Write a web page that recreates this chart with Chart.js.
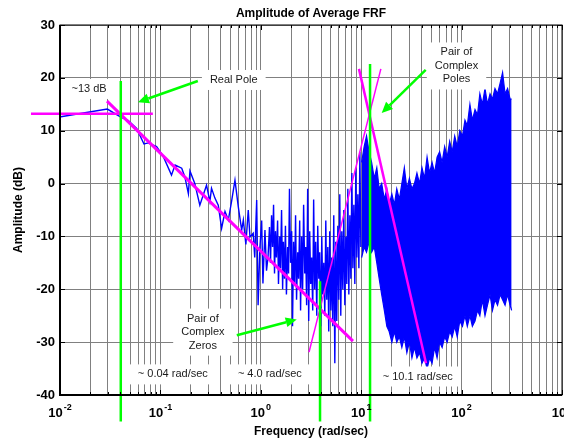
<!DOCTYPE html>
<html>
<head>
<meta charset="utf-8">
<title>Amplitude of Average FRF</title>
<script src="https://cdn.jsdelivr.net/npm/chart.js@4.4.0/dist/chart.umd.min.js"></script>
<style>
  html, body { margin: 0; padding: 0; background: #fff; }
  canvas { display: block; }
</style>
</head>
<body>
<canvas id="frf" width="564" height="439"></canvas>
<script>
// measured FRF, sparse low frequency part (rad/sec , dB)
var lowFreq = [0.0102, 0.0296, 0.0396, 0.0479, 0.058, 0.0686, 0.0757, 0.0916, 0.107, 0.129,
               0.140, 0.163, 0.175, 0.190, 0.197, 0.220, 0.247, 0.288, 0.311, 0.323,
               0.349, 0.377, 0.407, 0.440, 0.475, 0.510, 0.553, 0.597, 0.645, 0.670,
               0.710, 0.750, 0.780, 0.840, 0.870, 0.910, 0.940, 0.980, 1.02, 1.05,
               1.10, 1.14, 1.18, 1.22];
var lowAmp = [12.65, 14.1, 12.65, 11.9, 10.45, 7.5, 7.7, 7.0, 5.1, 1.6,
              3.5, 2.9, 1.3, -1.9, 2.4, 0.0, -4.1, -0.3, -3.4, -0.9,
              -2.75, -4.1, -8.5, -5.3, -6.9, -3.5, 0.66, -4.4, -8.8, -6.9,
              -11.5, -5.0, -10.1, -9.4, -14.0, -3.1, -23, -12.0, -7.0, -18.9,
              -8.8, -16.5, -13.9, -8.2];

// noisy part 1.25 .. 10 rad/sec
var midFreq = [1.25, 1.28, 1.31, 1.34, 1.37, 1.40, 1.43, 1.47, 1.50, 1.54,
               1.57, 1.61, 1.65, 1.68, 1.72, 1.76, 1.80, 1.85, 1.89, 1.93,
               1.98, 2.03, 2.07, 2.12, 2.17, 2.22, 2.27, 2.33, 2.38, 2.44,
               2.49, 2.55, 2.61, 2.67, 2.74, 2.80, 2.86, 2.93, 3.00, 3.07,
               3.14, 3.21, 3.29, 3.36, 3.44, 3.52, 3.61, 3.69, 3.78, 3.86,
               3.95, 4.05, 4.14, 4.24, 4.34, 4.44, 4.54, 4.65, 4.75, 4.86,
               4.98, 5.09, 5.21, 5.33, 5.46, 5.58, 5.71, 5.85, 5.98, 6.12,
               6.26, 6.41, 6.56, 6.71, 6.87, 7.03, 7.19, 7.36, 7.53, 7.71,
               7.89, 8.07, 8.26, 8.45, 8.64, 8.84, 9.05, 9.26, 9.48, 9.70,
               9.92];
var midAmp = [-15, -6, -12, -4, -17, -9, -14, -7, -19, -10,
              -16, -5, -20, -11, -18, -8, -21, -12, -17, -1,
              -15, -9, -27, -11, -19, -6, -22, -13, -18, -7,
              -24, -10, -20, -4, -17, -12, -23, -1, -26, -9,
              -19, -14, -24, -3, -20, -11, -25, -8, -18, -13,
              -27, -10, -21, -15, -25, -7, -22, -12, -28, -9,
              -24, -14, -27, -6, -34, -11, -26, -8, -22, -2,
              -25, -9, -20, -5, -23, -10, -19, -1, -21, -6,
              -18, 2, -16, -4, -19, 3, -14, -2, -16, 6,
              -12];

// dense part 10 .. 315 rad/sec : upper and lower edge of the band
var bandFreq = [10.1, 10.7, 11.3, 12.0, 12.7, 13.5, 14.3, 15.1, 16.0, 17.0,
                18.0, 19.0, 20.2, 21.4, 22.6, 24.0, 25.4, 26.9, 28.5, 30.2,
                32.0, 33.9, 35.9, 38.1, 40.3, 42.7, 45.3, 48.0, 50.8, 53.8,
                57.0, 60.4, 64.0, 67.8, 71.8, 76.1, 80.6, 85.4, 90.5, 95.9,
                102, 108, 114, 121, 128, 136, 144, 152, 161, 171,
                181, 192, 203, 215, 228, 242, 256, 271, 287, 304, 315];
var bandTop = [4, 7, 9, 6, 4, 1, 3, -1, 0, -3,
               -1, -4, -2, -4, -1, -3, 0, 3, -1, 1,
               -1, 0, 2, 0, 3, 1, 5, 2, 4, 2,
               5, 6, 4, 7, 5, 8, 6, 9, 7, 10,
               9, 12, 11, 15, 12, 14, 13, 17, 15, 18,
               15, 17, 16, 18, 17, 19, 21, 17, 18, 16, 16];
var bandBottom = [-14, -12, -13, -11, -13, -12, -15, -18, -21, -24,
                  -27, -28, -30, -28, -30, -29, -31, -29, -32, -30,
                  -33, -31, -33, -32, -34, -33, -35, -33, -34, -31,
                  -33, -30, -31, -29, -30, -28, -29, -27, -29, -26,
                  -27, -25, -27, -25, -27, -26, -24, -25, -22, -25,
                  -23, -21, -24, -22, -23, -21, -22, -23, -21, -23, -24];

// straight line asymptotes (start, end)
var realPoleFreq = [0.00514, 0.0841];
var realPoleAmp = [13.2, 13.2];
var slopeFreq = [0.0294, 8.28];
var slopeAmp = [15.6, -29.8];
var zeroRiseFreq = [3.02, 15.7];
var zeroRiseAmp = [-31.9, 21.7];
var poleFallFreq = [9.5, 44.2];
var poleFallAmp = [21.7, -34.0];

// break frequency markers
var breakFreq = [0.0403, 3.89, 12.25];
var breakTop = [19.4, -18.5, 22.6];
var breakBottom = [-45, -45, -45];

// axis tick labels
var decades = [0.01, 0.1, 1, 10, 100, 1000];
var decadeExp = ['-2', '-1', '0', '1', '2', '3'];

// text notes and arrows (data coordinates)
var notes = [
  { lines: ['~13 dB'], f: 0.0195, a: 17.9 },
  { lines: ['Real Pole'], f: 0.538, a: 19.6 },
  { lines: ['Pair of', 'Complex', 'Poles'], f: 89, a: 22.25 },
  { lines: ['Pair of', 'Complex', 'Zeros'], f: 0.265, a: -28.1 },
  { lines: ['~ 0.04 rad/sec'], f: 0.133, a: -36.1 },
  { lines: ['~ 4.0 rad/sec'], f: 1.23, a: -36.1 },
  { lines: ['~ 10.1 rad/sec'], f: 36.6, a: -36.5 }
];
var arrows = [
  { from: [0.236, 19.4], to: [0.0598, 15.4] },
  { from: [43.9, 21.5], to: [16.0, 13.35] },
  { from: [0.577, -28.7], to: [2.28, -25.7] }
];

var FONT = '"Liberation Sans", Arial, Helvetica, sans-serif';

function pts(xs, ys) {
  return xs.map(function (x, i) { return { x: x, y: ys[i] }; });
}

function segment(xs, ys, color, width, order) {
  return {
    data: pts(xs, ys),
    borderColor: color,
    borderWidth: width,
    clip: false,
    order: order
  };
}

var datasets = [
  { data: pts(lowFreq.concat(midFreq), lowAmp.concat(midAmp)), borderColor: '#0000ff', borderWidth: 1.4, order: 5 },
  { data: pts(bandFreq, bandTop), borderColor: '#0000ff', borderWidth: 1.2, order: 4 },
  { data: pts(bandFreq, bandBottom), borderColor: '#0000ff', borderWidth: 1.2, backgroundColor: '#0000ff', fill: '-1', order: 4 },
  segment(realPoleFreq, realPoleAmp, '#ff00ff', 2.5, 1),
  segment(slopeFreq, slopeAmp, '#ff00ff', 3, 1),
  segment(zeroRiseFreq, zeroRiseAmp, '#ff00ff', 1.5, 1),
  segment(poleFallFreq, poleFallAmp, '#ff00ff', 2.5, 1)
];
breakFreq.forEach(function (f, i) {
  datasets.push(segment([f, f], [breakTop[i], breakBottom[i]], '#00ff00', 2.5, 0));
});

// grid at 1..9 of every decade
var xGrid = [];
for (var d = 0; d < decades.length - 1; d++) {
  for (var m = 1; m < 10; m++) xGrid.push(decades[d] * m);
}
xGrid.push(decades[decades.length - 1]);

var annotate = {
  id: 'annotate',
  afterDatasetsDraw: function (chart) {
    var ctx = chart.ctx, xs = chart.scales.x, ys = chart.scales.y;
    ctx.save();
    ctx.font = '11px ' + FONT;
    ctx.textAlign = 'center';
    ctx.textBaseline = 'middle';
    notes.forEach(function (n) {
      var cx = xs.getPixelForValue(n.f), cy = ys.getPixelForValue(n.a);
      var w = Math.max.apply(null, n.lines.map(function (l) { return ctx.measureText(l).width; })) + 16;
      var h = (n.lines.length - 1) * 13.5 + 20;
      ctx.fillStyle = '#fff';
      ctx.fillRect(cx - w / 2, cy - h / 2, w, h);
      ctx.fillStyle = '#1a1a1a';
      n.lines.forEach(function (l, i) {
        ctx.fillText(l, cx, cy + (i - (n.lines.length - 1) / 2) * 13.5);
      });
    });

    ctx.strokeStyle = '#00ff00';
    ctx.fillStyle = '#00ff00';
    ctx.lineWidth = 2.5;
    arrows.forEach(function (a) {
      var x0 = xs.getPixelForValue(a.from[0]), y0 = ys.getPixelForValue(a.from[1]);
      var x1 = xs.getPixelForValue(a.to[0]), y1 = ys.getPixelForValue(a.to[1]);
      var ang = Math.atan2(y1 - y0, x1 - x0), hl = 11, hw = 5;
      var bx = x1 - hl * Math.cos(ang), by = y1 - hl * Math.sin(ang);
      ctx.beginPath();
      ctx.moveTo(x0, y0);
      ctx.lineTo(bx, by);
      ctx.stroke();
      ctx.beginPath();
      ctx.moveTo(x1, y1);
      ctx.lineTo(bx + hw * Math.sin(ang), by - hw * Math.cos(ang));
      ctx.lineTo(bx - hw * Math.sin(ang), by + hw * Math.cos(ang));
      ctx.closePath();
      ctx.fill();
    });
    ctx.restore();
  },
  afterDraw: function (chart) {
    var ctx = chart.ctx, a = chart.chartArea, xs = chart.scales.x, ys = chart.scales.y;
    ctx.save();
    // axes box
    ctx.strokeStyle = '#000';
    ctx.lineWidth = 1;
    ctx.strokeRect(a.left, a.top, a.right - a.left, a.bottom - a.top);
    ctx.lineWidth = 2;
    ctx.beginPath();
    ctx.moveTo(a.left, a.top);
    ctx.lineTo(a.left, a.bottom);
    ctx.lineTo(a.right, a.bottom);
    ctx.stroke();

    // inward ticks
    ctx.lineWidth = 1;
    ctx.beginPath();
    xGrid.forEach(function (v) {
      var px = Math.round(xs.getPixelForValue(v)) + 0.5;
      var len = decades.indexOf(v) >= 0 ? 5 : 3;
      ctx.moveTo(px, a.bottom); ctx.lineTo(px, a.bottom - len);
      ctx.moveTo(px, a.top); ctx.lineTo(px, a.top + len);
    });
    ys.ticks.forEach(function (t) {
      var py = Math.round(ys.getPixelForValue(t.value)) + 0.5;
      ctx.moveTo(a.left, py); ctx.lineTo(a.left + 5, py);
      ctx.moveTo(a.right, py); ctx.lineTo(a.right - 5, py);
    });
    ctx.stroke();

    // x tick labels 10^n
    ctx.fillStyle = '#000';
    ctx.textAlign = 'left';
    ctx.textBaseline = 'alphabetic';
    decades.forEach(function (v, i) {
      var px = xs.getPixelForValue(v);
      ctx.font = 'bold 13px ' + FONT;
      var w1 = ctx.measureText('10').width;
      ctx.font = 'bold 9px ' + FONT;
      var w2 = ctx.measureText(decadeExp[i]).width;
      var x0 = px - (w1 + w2 + 1) / 2;
      ctx.font = 'bold 13px ' + FONT;
      ctx.fillText('10', x0, a.bottom + 22);
      ctx.font = 'bold 9px ' + FONT;
      ctx.fillText(decadeExp[i], x0 + w1 + 1, a.bottom + 15);
    });

    // titles
    var mid = (a.left + a.right) / 2;
    ctx.textAlign = 'center';
    ctx.font = 'bold 12px ' + FONT;
    ctx.fillText('Amplitude of Average FRF', mid, 17);
    ctx.fillText('Frequency (rad/sec)', mid, 435);
    ctx.translate(19, (a.top + a.bottom) / 2);
    ctx.rotate(-Math.PI / 2);
    ctx.textBaseline = 'middle';
    ctx.fillText('Amplitude (dB)', 0, 0);
    ctx.restore();
  }
};

var chart = new Chart(document.getElementById('frf').getContext('2d'), {
  type: 'line',
  data: { datasets: datasets },
  plugins: [annotate],
  options: {
    responsive: false,
    animation: false,
    events: [],
    layout: { padding: { top: 25, right: 2, left: 0, bottom: 0 } },
    elements: { point: { radius: 0 }, line: { tension: 0 } },
    plugins: {
      legend: { display: false },
      tooltip: { enabled: false },
      title: { display: false }
    },
    scales: {
      x: {
        type: 'logarithmic',
        min: 0.01,
        max: 1000,
        afterBuildTicks: function (scale) {
          scale.ticks = xGrid.map(function (v) { return { value: v }; });
        },
        afterFit: function (scale) { scale.height = 44; },
        ticks: { display: false },
        grid: { color: '#808080', lineWidth: 1, drawTicks: false },
        border: { display: false }
      },
      y: {
        type: 'linear',
        min: -40,
        max: 30,
        afterFit: function (scale) { scale.width = 60; },
        ticks: {
          stepSize: 10,
          padding: 5,
          color: '#000',
          font: { family: FONT, size: 13, weight: 'bold' }
        },
        grid: { color: '#808080', lineWidth: 1, drawTicks: false },
        border: { display: false }
      }
    }
  }
});
</script>
</body>
</html>
